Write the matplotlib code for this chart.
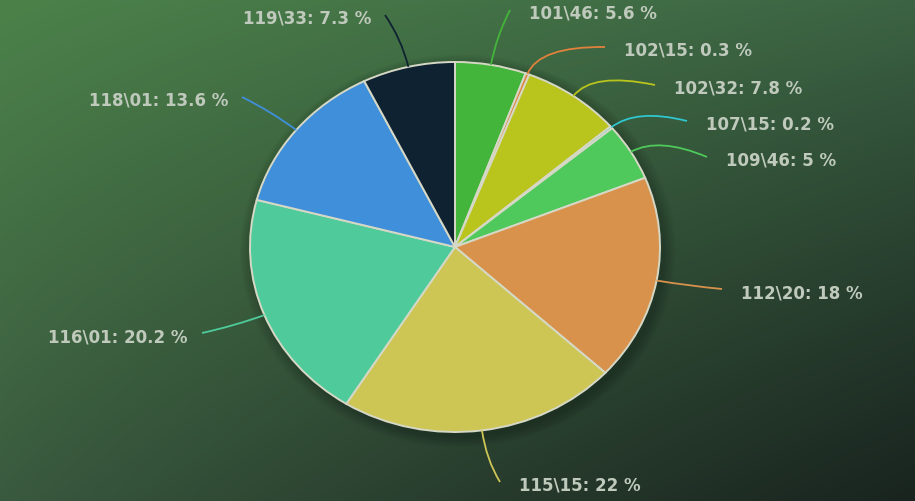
import numpy as np
import matplotlib
matplotlib.use("Agg")
import matplotlib.pyplot as plt
from matplotlib.path import Path
from matplotlib.patches import PathPatch, Ellipse

# slice data (clockwise from 12 o'clock)
labels = [r"101\46", r"102\15", r"102\32", r"107\15", r"109\46",
          r"112\20", r"115\15", r"116\01", r"118\01", r"119\33"]
shares = [5.6, 0.3, 7.8, 0.2, 5, 18, 22, 20.2, 13.6, 7.3]
colors = ["#43b53a", "#e0823e", "#b9c41c", "#2fc6cf", "#4fc95b",
          "#d8924c", "#cdc655", "#4fcb9b", "#3f8fdb", "#0f2232"]

W, H = 915, 501
CX, CY = 455, 247      # pie centre in pixels (from top)
RX, RY = 205, 185      # pie radii in pixels


def px(x, y):
    # pixel position (origin top-left) -> data coords of the pie axes
    return (x - CX) / RX, (CY - y) / RY


# where each leader line ends (pixels) and which side the text sits on
line_ends = [(510, 10), (605, 47), (655, 85), (687, 121), (707, 157),
             (722, 289), (500, 482), (202, 333), (242, 97), (385, 15)]
sides = ["right", "right", "right", "right", "right",
         "right", "right", "left", "left", "left"]

fig = plt.figure(figsize=(W / 100, H / 100), dpi=100)

# green background, blended between the four corner colours
bg = fig.add_axes([0, 0, 1, 1])
yy, xx = np.mgrid[0:H, 0:W]
u = (xx / W)[..., None]
v = (yy / H)[..., None]
tl = np.array([76, 130, 74]) / 255
tr = np.array([60, 100, 68]) / 255
bl = np.array([58, 90, 63]) / 255
br = np.array([28, 40, 35]) / 255
img = (tl * (1 - u) * (1 - v) + tr * u * (1 - v)
       + bl * (1 - u) * v + br * u * v)
# a bit darker towards the lower right
img *= 1 - 0.12 * (u * v) ** 0.7
bg.imshow(np.clip(img, 0, 1), aspect="auto", extent=(0, W, H, 0))
bg.axis("off")

ax = fig.add_axes([0, 0, 1, 1])
ax.patch.set_alpha(0)

# faint shadow behind the pie
for k in range(6):
    s = 1 + 0.01 * (k + 1)
    ax.add_patch(Ellipse((0.015, -0.02), 2 * s, 2 * s,
                         facecolor="black", edgecolor="none", alpha=0.035, zorder=0))

wedges, _ = ax.pie(shares, colors=colors, startangle=90, counterclock=False,
                   wedgeprops=dict(edgecolor="#d6d8c6", linewidth=1.4))
ax.set_aspect("auto")
ax.set_xlim(-CX / RX, (W - CX) / RX)
ax.set_ylim((CY - H) / RY, CY / RY)
ax.axis("off")

for w, lab, val, col, end, side in zip(wedges, labels, shares, colors, line_ends, sides):
    a = np.deg2rad((w.theta1 + w.theta2) / 2)
    p0 = (np.cos(a), np.sin(a))
    p1 = (1.16 * np.cos(a), 1.16 * np.sin(a))
    p2 = px(*end)
    path = Path([p0, p1, p2], [Path.MOVETO, Path.CURVE3, Path.CURVE3])
    ax.add_patch(PathPatch(path, facecolor="none", edgecolor=col, lw=1.3, zorder=5))
    if side == "right":
        tx, ha = px(end[0] + 19, end[1] + 4), "left"
    else:
        tx, ha = px(end[0] - 14, end[1] + 4), "right"
    ax.text(tx[0], tx[1], f"{lab}: {val:g} %", ha=ha, va="center",
            fontsize=12, fontweight="bold", color="#bfcabc",
            family="DejaVu Sans")

fig.savefig("out.png", dpi=100)
